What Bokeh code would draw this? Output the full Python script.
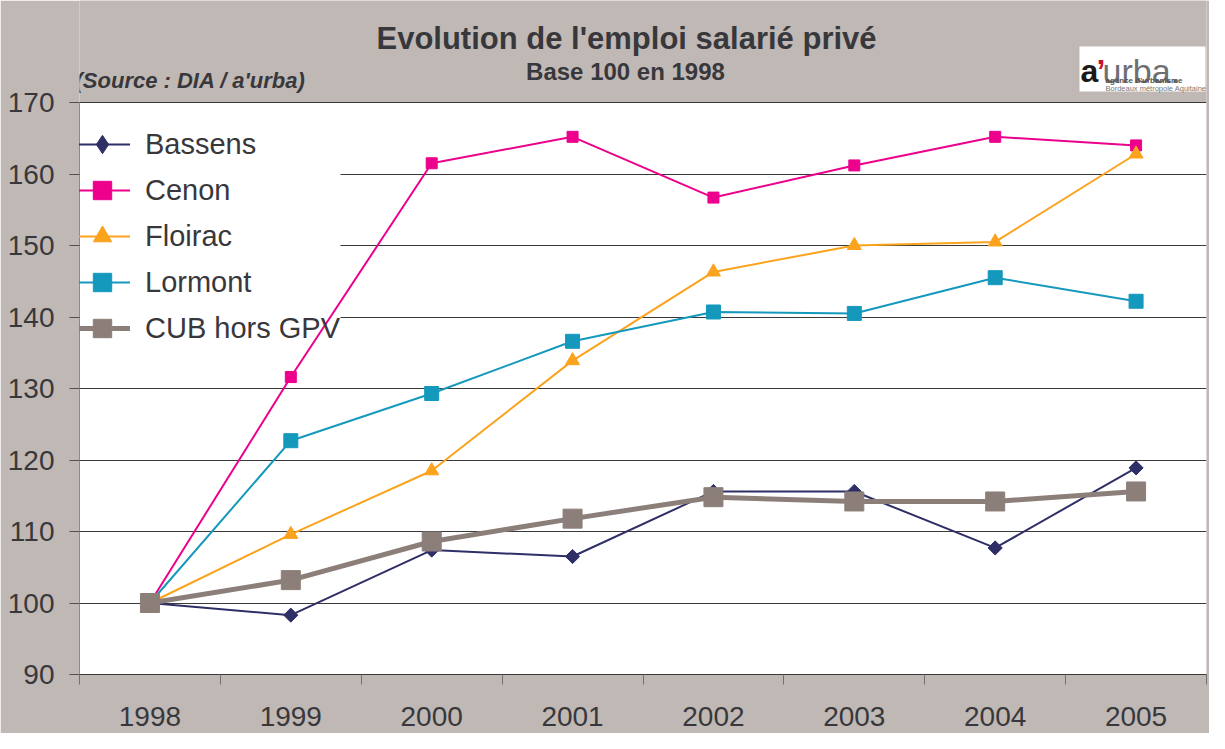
import numpy as np
from bokeh.plotting import figure
from bokeh.models import (FixedTicker, Label, BoxAnnotation, Legend, LegendItem,
                          ColumnDataSource)
from bokeh.embed import file_html
from bokeh.resources import INLINE

# ---------------- data ----------------
years = [1998, 1999, 2000, 2001, 2002, 2003, 2004, 2005]
bassens = [100, 98.3, 107.4, 106.5, 115.6, 115.6, 107.7, 118.9]
cenon = [100, 131.6, 161.5, 165.2, 156.7, 161.2, 165.2, 164.0]
floirac = [100, 109.6, 118.5, 133.9, 146.3, 150.0, 150.5, 162.8]
lormont = [100, 122.7, 129.3, 136.6, 140.7, 140.5, 145.5, 142.2]
cub = [100, 103.2, 108.6, 111.8, 114.8, 114.2, 114.2, 115.6]
y_ticks = [90, 100, 110, 120, 130, 140, 150, 160, 170]
Y_MIN, Y_MAX = 90, 170

FONT = "Liberation Sans"
TXT = "#38383c"
BG = "#c0b8b5"

W, H = 1209, 733
FL, FT, FB, FR = 79, 102, 674, 1206   # plot-area edges in canvas px

# the frame reaches the top of the canvas so that the title texts are not clipped;
# the white plot area is limited to Y_MIN..Y_MAX
y_top = Y_MAX + FT * (Y_MAX - Y_MIN) / (FB - FT)

p = figure(width=W, height=H, output_backend="svg", toolbar_location=None,
           x_range=(1997.5, 2005.5), y_range=(Y_MIN, y_top),
           min_border_left=FL, min_border_top=0,
           min_border_bottom=H - FB, min_border_right=W - FR)
p.background_fill_color = BG
p.border_fill_color = BG
p.outline_line_color = None

plot_bg = BoxAnnotation(bottom=Y_MIN, top=Y_MAX, fill_color="white", fill_alpha=1,
                        line_color=None, level="image")
p.add_layout(plot_bg)

# axes
p.xaxis.ticker = FixedTicker(ticks=years, minor_ticks=[y - 0.5 for y in years] + [years[-1] + 0.5])
p.xaxis.major_tick_out = 0
p.xaxis.major_tick_in = 0
p.xaxis.minor_tick_out = 10
p.xaxis.minor_tick_in = 0
p.xaxis.minor_tick_line_color = "#707070"
p.xaxis.axis_line_color = "#3a3a3a"
p.xaxis.major_label_standoff = 22
p.xaxis.major_label_text_font = FONT
p.xaxis.major_label_text_font_size = "28px"
p.xaxis.major_label_text_color = TXT

p.yaxis.ticker = FixedTicker(ticks=y_ticks)
p.yaxis.bounds = (Y_MIN, Y_MAX)
p.yaxis.major_tick_out = 10
p.yaxis.major_tick_in = 0
p.yaxis.minor_tick_line_color = None
p.yaxis.major_tick_line_color = "#505050"
p.yaxis.axis_line_color = "#8a8a8a"
p.yaxis.major_label_standoff = 15
p.yaxis.major_label_text_font = FONT
p.yaxis.major_label_text_font_size = "28px"
p.yaxis.major_label_text_color = TXT

p.xgrid.grid_line_color = None
p.ygrid.grid_line_color = "#3a3a3a"
p.ygrid.grid_line_width = 1

# white patch behind the legend that hides the grid lines
mask = BoxAnnotation(left=FL, right=340, top=105, bottom=354,
                     left_units="canvas", right_units="canvas",
                     top_units="canvas", bottom_units="canvas",
                     fill_color="white", fill_alpha=1, line_color=None,
                     level="underlay")
p.add_layout(mask)

series = [
    ("Bassens", bassens, "#2f2f68", 2, dict(marker="square", angle=np.pi / 4, size=10)),
    ("Cenon", cenon, "#ec008c", 2, dict(marker="square", size=11)),
    ("Floirac", floirac, "#fba31c", 2, dict(marker="triangle", size=14)),
    ("Lormont", lormont, "#1499bd", 2, dict(marker="square", size=14)),
    ("CUB hors GPV", cub, "#8c7f7a", 5, dict(marker="square", size=19)),
]

items = []
for name, vals, col, lw, mk in series:
    src = ColumnDataSource(dict(x=years, y=vals))
    r1 = p.line("x", "y", source=src, line_color=col, line_width=lw)
    r2 = p.scatter("x", "y", source=src, fill_color=col, line_color=col, **mk)
    rs = [r1, r2]
    if mk.get("angle"):
        # legend-only diamond (hidden in the plot, drawn in the legend)
        rd = p.scatter("x", "y", source=src, marker="diamond", size=18,
                       fill_color=col, line_color=col, visible=False)
        rs = [r1, rd]
    items.append(LegendItem(label=name, renderers=rs))

legend = Legend(items=items, location=(-5, 323), padding=0, spacing=0,
                margin=0, glyph_height=46, glyph_width=56, label_standoff=15,
                label_text_font=FONT, label_text_font_size="29px",
                label_text_color=TXT, background_fill_alpha=0,
                border_line_color=None, inactive_fill_alpha=0,
                click_policy="none")
p.add_layout(legend, "center")

# titles
p.add_layout(Label(x=626, y=38, x_units="canvas", y_units="canvas",
                   text="Evolution de l'emploi salarié privé", text_align="center",
                   text_baseline="alphabetic", text_font=FONT, text_font_style="bold",
                   text_font_size="31px", text_color=TXT))
p.add_layout(Label(x=625, y=71, x_units="canvas", y_units="canvas",
                   text="Base 100 en 1998", text_align="center",
                   text_baseline="alphabetic", text_font=FONT, text_font_style="bold",
                   text_font_size="24px", text_color=TXT))
p.add_layout(Label(x=75, y=80, x_units="canvas", y_units="canvas",
                   text="(Source : DIA / a'urba)", text_align="left",
                   text_baseline="alphabetic", text_font=FONT, text_font_style="bold italic",
                   text_font_size="22px", text_color=TXT))

# logo
p.add_layout(BoxAnnotation(left=1079, right=1205, top=46, bottom=91,
                           left_units="canvas", right_units="canvas",
                           top_units="canvas", bottom_units="canvas",
                           fill_color="white", fill_alpha=1, line_color=None))
p.add_layout(Label(x=1080, y=70, x_units="canvas", y_units="canvas", text="a",
                   text_baseline="alphabetic", text_font=FONT, text_font_style="bold",
                   text_font_size="32px", text_color="#1a1a1a"))
p.add_layout(Label(x=1096, y=70, x_units="canvas", y_units="canvas", text="\u2019",
                   text_baseline="alphabetic", text_font=FONT, text_font_style="bold",
                   text_font_size="32px", text_color="#c8102e"))
p.add_layout(Label(x=1102, y=70, x_units="canvas", y_units="canvas", text="urba.",
                   text_baseline="alphabetic", text_font=FONT,
                   text_font_size="34px", text_color="#6e6f72"))
p.add_layout(Label(x=1105, y=80, x_units="canvas", y_units="canvas", text="agence d'urbanisme",
                   text_baseline="alphabetic", text_font=FONT, text_font_style="bold",
                   text_font_size="8px", text_color="#555555"))
p.add_layout(Label(x=1105, y=88, x_units="canvas", y_units="canvas", text="Bordeaux métropole Aquitaine",
                   text_baseline="alphabetic", text_font=FONT,
                   text_font_size="7.5px", text_color="#777777"))

open("out.html", "w").write(file_html(p, INLINE))
